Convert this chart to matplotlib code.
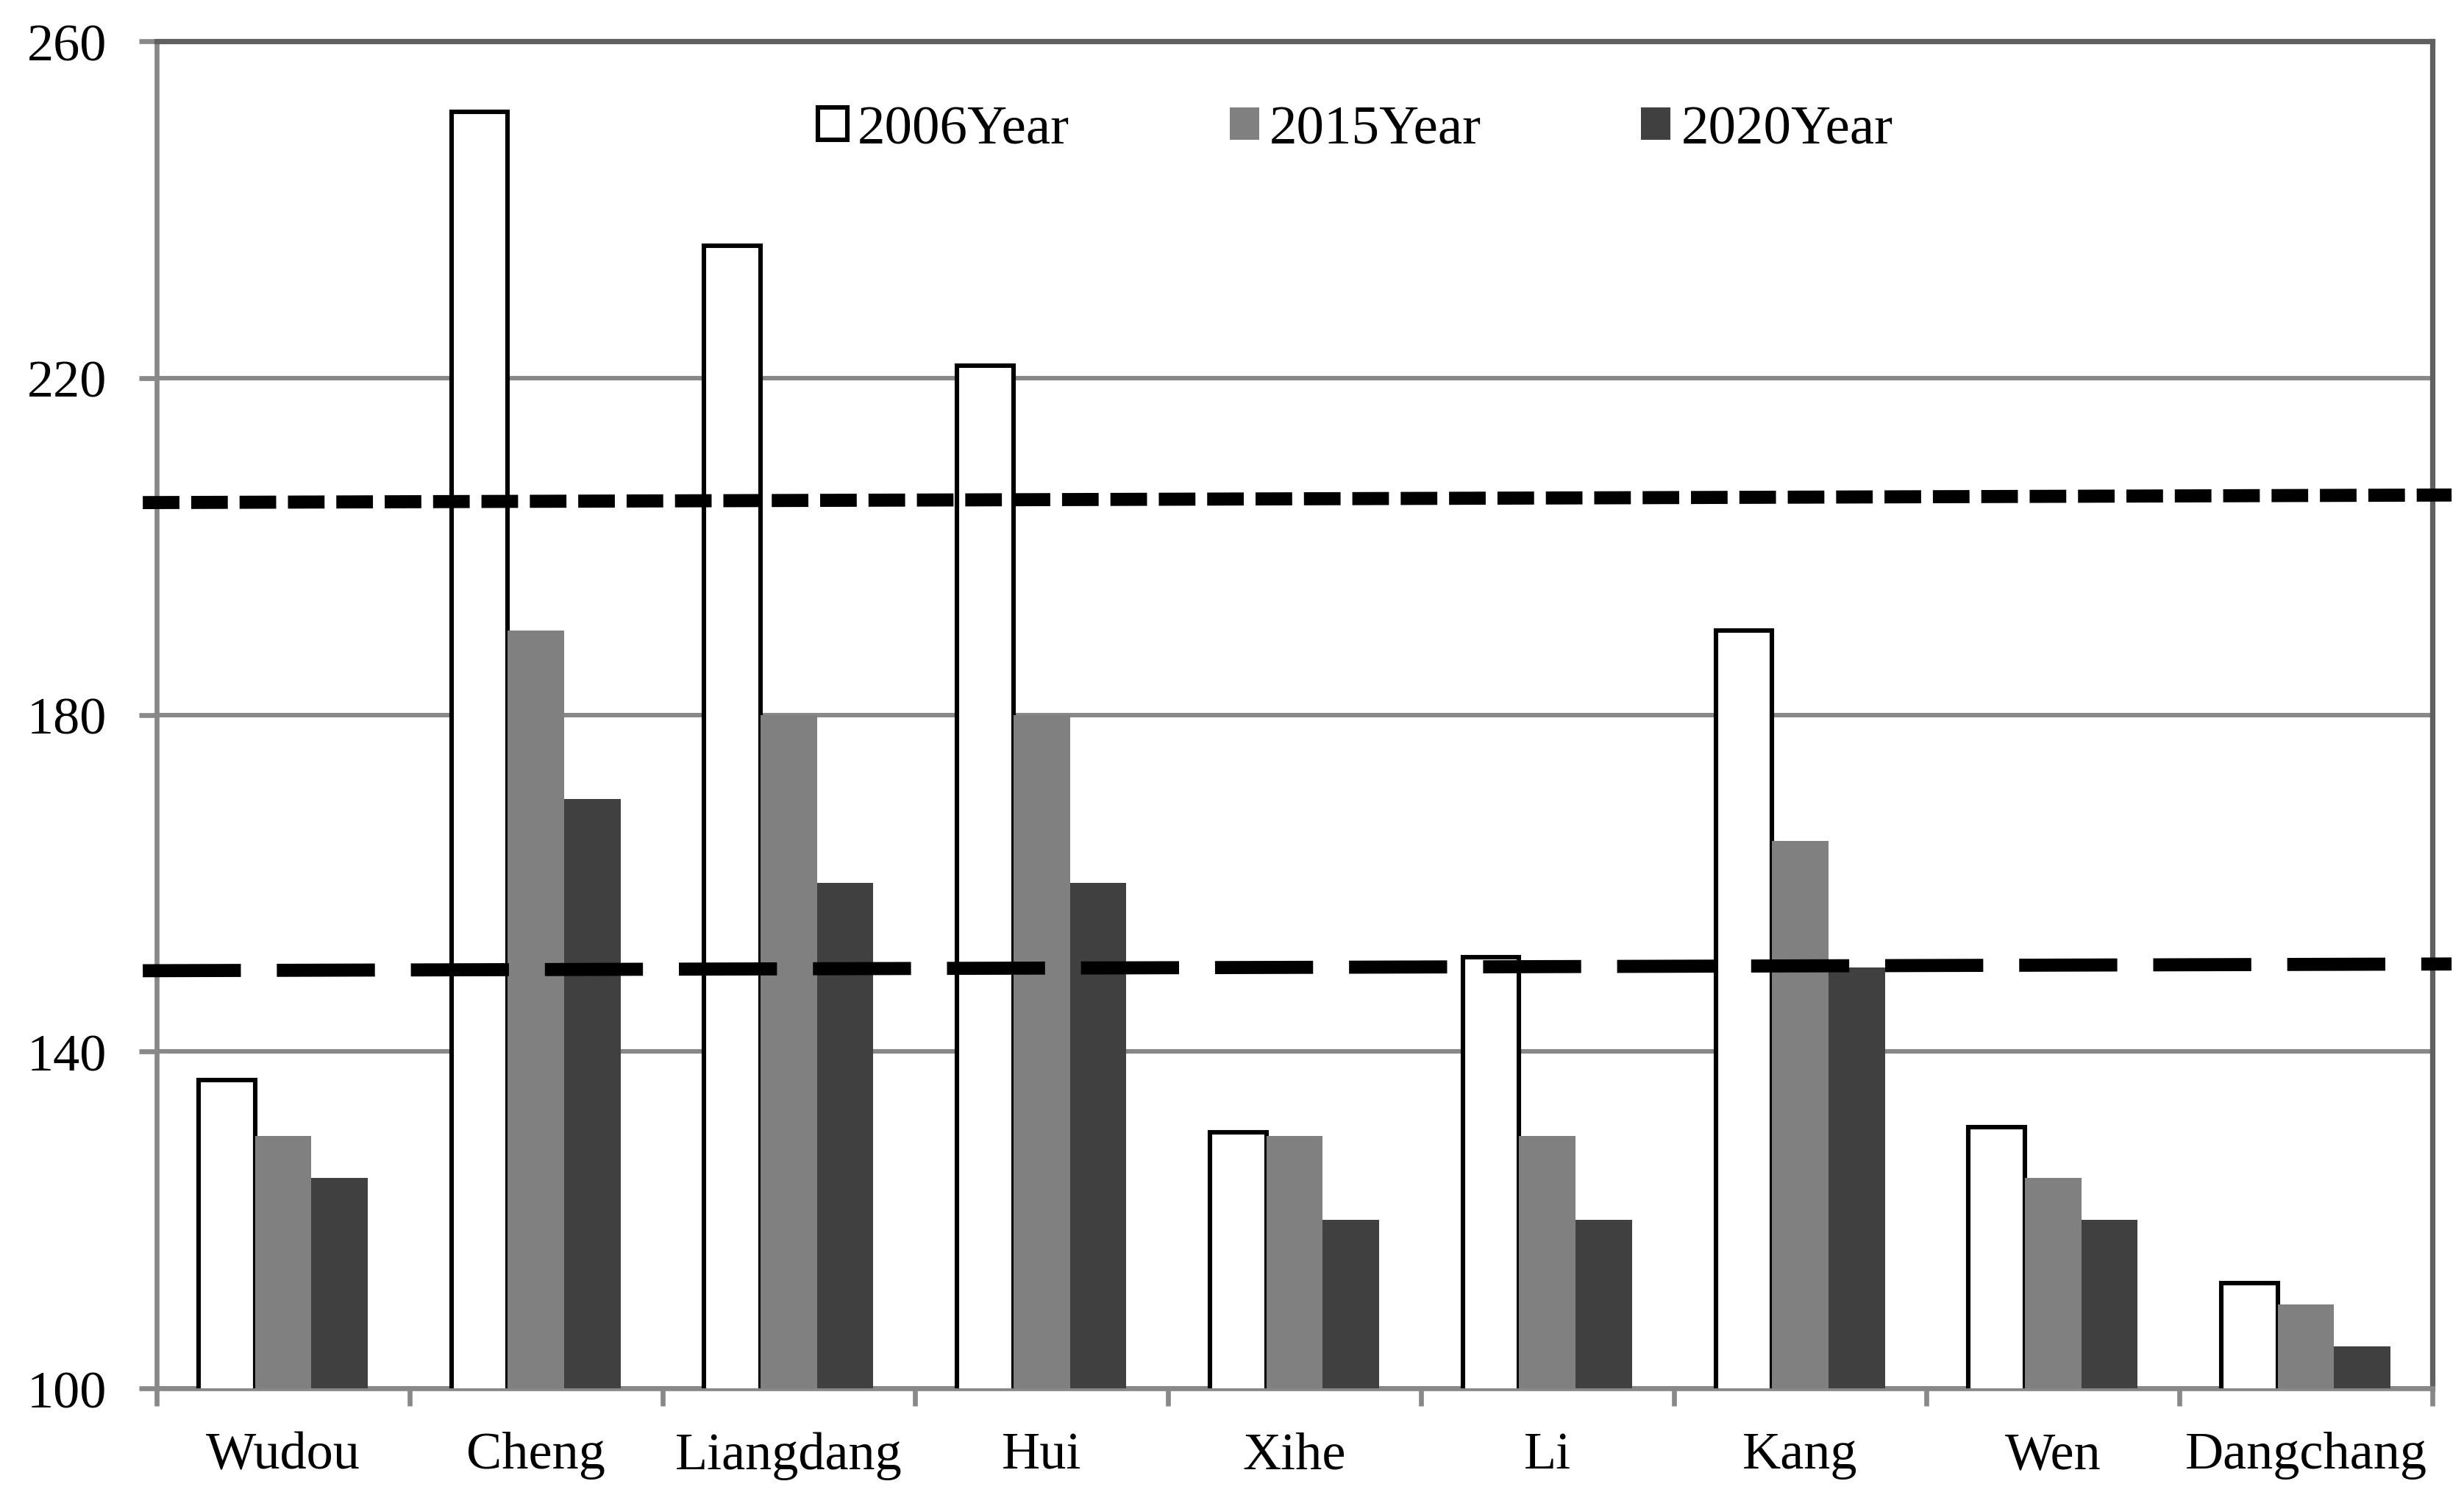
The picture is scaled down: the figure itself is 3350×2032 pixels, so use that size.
import numpy as np
import matplotlib.pyplot as plt

plt.rcParams['font.family'] = ['Liberation Serif', 'DejaVu Serif']

# data
counties = ['Wudou', 'Cheng', 'Liangdang', 'Hui', 'Xihe', 'Li', 'Kang', 'Wen', 'Dangchang']
years = ['2006Year', '2015Year', '2020Year']
y2006 = [136.6, 251.6, 235.7, 221.5, 130.4, 151.2, 190.0, 131.0, 112.5]
y2015 = [130, 190, 180, 180, 130, 130, 165, 125, 110]
y2020 = [125, 170, 160, 160, 120, 120, 150, 120, 105]

# the two dashed reference lines (value at left end, value at right end)
ref_start = [205.2, 149.6]
ref_end = [206.1, 150.4]

fig = plt.figure(figsize=(16.75, 10.165), dpi=200)
ax = fig.add_axes([0.0636, 0.07132, 0.92356, 0.90064])

x = np.arange(len(counties))
w = 0.223
ax.bar(x - w, y2006, w, color='white', edgecolor='black', linewidth=2.2,
       label=years[0], zorder=3)
ax.bar(x, y2015, w, color='#808080', linewidth=0, label=years[1], zorder=3)
ax.bar(x + w, y2020, w, color='#404040', linewidth=0, label=years[2], zorder=3)

# dashed lines, run a little past both spines
ax.plot([-0.555, 8.576], [ref_start[0], ref_end[0]], color='black', lw=6.4,
        linestyle=(0, (2.8, 0.9)), clip_on=False, zorder=5)
ax.plot([-0.555, 8.576], [ref_start[1], ref_end[1]], color='black', lw=6.4,
        linestyle=(0, (7.5, 2.75)), clip_on=False, zorder=5)

ax.set_xlim(-0.5, len(counties) - 0.5)
ax.set_ylim(100, 260)
ax.set_yticks([100, 140, 180, 220, 260])
ax.yaxis.grid(True, color='#888888', linewidth=2.2, zorder=0)
ax.set_axisbelow(True)

ax.set_xticks(x)
ax.set_xticklabels(counties)
ax.set_xticks(np.arange(len(counties) + 1) - 0.5, minor=True)
ax.tick_params(axis='x', which='major', length=0, pad=21, labelsize=26)
ax.tick_params(axis='x', which='minor', length=8.5, width=2.4, color='#888888')
ax.tick_params(axis='y', length=8.5, width=2.4, color='#888888', pad=16, labelsize=26)

for side in ['left', 'bottom']:
    ax.spines[side].set_color('#888888')
    ax.spines[side].set_linewidth(2.4)
for side in ['top', 'right']:
    ax.spines[side].set_color('#606060')
    ax.spines[side].set_linewidth(2.6)

ax.legend(loc='center left', bbox_to_anchor=(0.2906, 0.934), ncol=3,
          frameon=False, fontsize=27, borderpad=0, borderaxespad=0,
          handlelength=0.53, handleheight=0.53, handletextpad=0.19,
          columnspacing=2.9)

fig.savefig('out.png', dpi=200)
